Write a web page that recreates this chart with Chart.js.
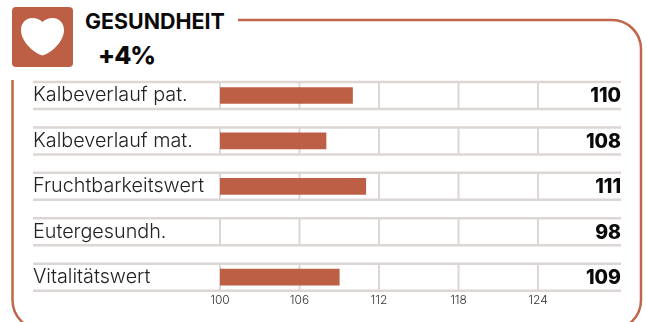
<!DOCTYPE html>
<html>
<head>
<meta charset="utf-8">
<title>Gesundheit</title>
<script src="https://cdn.jsdelivr.net/npm/chart.js@4"></script>
<style>
  html, body { margin: 0; padding: 0; background: #fff; }
  #wrap { position: relative; width: 646px; height: 322px; overflow: hidden; font-family: Inter, sans-serif; }
  #deco, #chart { position: absolute; left: 0; top: 0; }
  #title { position: absolute; left: 85px; top: 9px; font-size: 21.4px; font-weight: 700; color: #0a0a0a; line-height: 24px; }
  #delta { position: absolute; left: 98px; top: 38px; font-size: 25px; font-weight: 800; color: #0a0a0a; line-height: 34px; letter-spacing: -1px; }
</style>
</head>
<body>
<div id="wrap">
  <svg id="deco" width="646" height="322">
    <path d="M238 20 H612 A29 29 0 0 1 641 49 V300 A30 30 0 0 1 611 330 H43 A30 30 0 0 1 12.500 300 V80" fill="none" stroke="#c0664c" stroke-width="2.500"/>
    <rect x="12" y="7" width="61" height="60" rx="4" fill="#bc5f45"/>
    <path d="M42.500 55.500 C36 54 21 43 21 30 C21 22 27 18 32 18 C37 18 40.500 20 42.500 22 C44.500 20 48 18 53 18 C58 18 64 22 64 30 C64 43 49 54 42.500 55.500 Z" fill="#fff"/>
  </svg>
  <div id="title">GESUNDHEIT</div>
  <div id="delta">+4%</div>
  <canvas id="chart" width="646" height="322"></canvas>
</div>
<script>
// Data
const categories = ['Kalbeverlauf pat.', 'Kalbeverlauf mat.', 'Fruchtbarkeitswert', 'Eutergesundh.', 'Vitalitätswert'];
const values = [110, 108, 111, 98, 109];
const tickValues = [100, 106, 112, 118, 124];
const axisMin = 100;
const axisMax = 130.26;

const barColor = '#bc5f45';
const gridColor = '#dcd7d4';

// Row lines, the broken vertical gridlines and the values on the right
const rowPlugin = {
    id: 'rows',
    beforeDatasetsDraw(chart) {
        const { ctx, scales: { x, y }, chartArea } = chart;
        const rowHeight = 27;
        ctx.save();
        ctx.strokeStyle = gridColor;
        categories.forEach((c, i) => {
            const mid = y.getPixelForValue(i);
            const top = mid - rowHeight / 2;
            const bottom = top + rowHeight;
            ctx.lineWidth = 2;
            tickValues.forEach(t => {
                const px = x.getPixelForValue(t);
                ctx.beginPath();
                ctx.moveTo(px, top);
                ctx.lineTo(px, bottom);
                ctx.stroke();
            });
            ctx.lineWidth = 2.5;
            [top, bottom].forEach(py => {
                ctx.beginPath();
                ctx.moveTo(33, py);
                ctx.lineTo(chartArea.right, py);
                ctx.stroke();
            });
        });
        ctx.restore();
    },
    afterDatasetsDraw(chart) {
        const { ctx, scales: { y }, chartArea } = chart;
        ctx.save();
        ctx.font = '800 19.5px Inter, sans-serif';
        ctx.fillStyle = '#0a0a0a';
        ctx.textAlign = 'right';
        ctx.textBaseline = 'middle';
        values.forEach((v, i) => {
            ctx.fillText(String(v), chartArea.right, y.getPixelForValue(i) + 1);
        });
        ctx.restore();
    }
};

new Chart(document.getElementById('chart').getContext('2d'), {
    type: 'bar',
    data: {
        labels: categories,
        datasets: [{
            data: values,
            backgroundColor: barColor,
            barThickness: 16,
            // rows sit on the area edges (offset off), keep the 98 bar from leaking left
            clip: { left: 0, right: 0, top: 12, bottom: 12 }
        }]
    },
    plugins: [rowPlugin],
    options: {
        indexAxis: 'y',
        responsive: false,
        animation: false,
        layout: { padding: { left: 33, right: 25, top: 95.5, bottom: 0 } },
        plugins: { legend: { display: false }, tooltip: { enabled: false } },
        scales: {
            x: {
                min: axisMin,
                max: axisMax,
                afterBuildTicks(axis) { axis.ticks = tickValues.map(v => ({ value: v })); },
                afterFit(axis) { axis.height = 44.8; },
                grid: { display: false },
                border: { display: false },
                ticks: {
                    padding: 8,
                    maxRotation: 0,
                    font: { family: 'Inter, sans-serif', size: 12, weight: '300' },
                    color: '#333'
                }
            },
            y: {
                offset: false,
                afterFit(axis) { axis.width = 187; },
                grid: { display: false, offset: false },
                border: { display: false },
                ticks: {
                    crossAlign: 'far',
                    padding: 0,
                    font: { family: 'Inter, sans-serif', size: 19.8, weight: '300' },
                    color: '#222'
                }
            }
        }
    }
});
</script>
</body>
</html>
